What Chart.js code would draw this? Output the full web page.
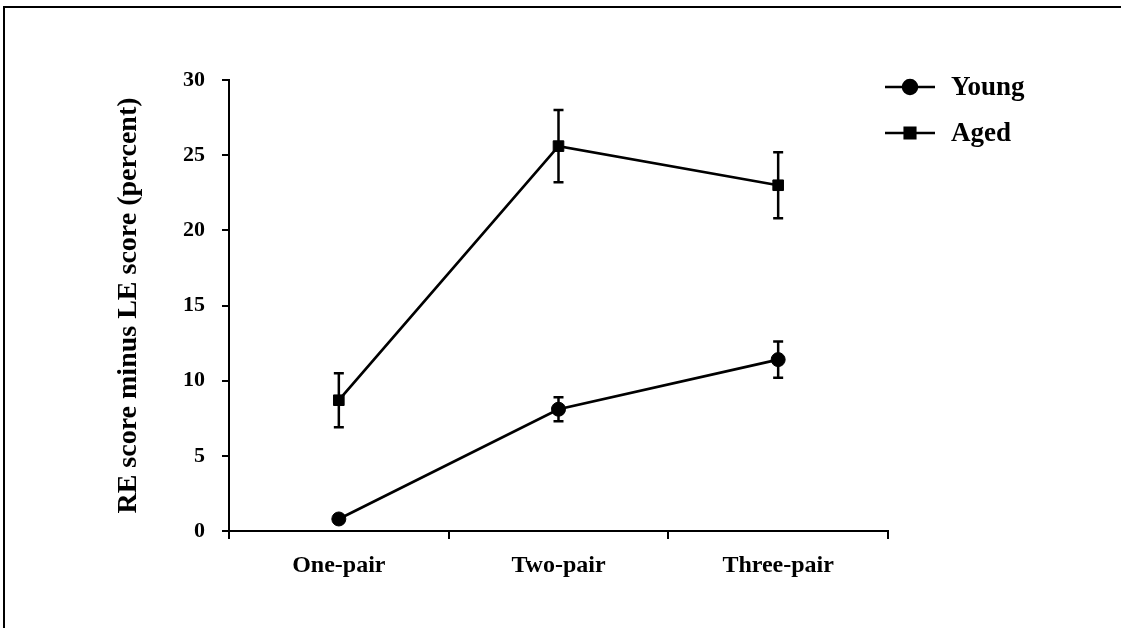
<!DOCTYPE html>
<html>
<head>
<meta charset="utf-8">
<script src="https://cdn.jsdelivr.net/npm/chart.js@4.4.1/dist/chart.umd.min.js"></script>
<style>
  html, body { margin: 0; padding: 0; background: #fff; }
  #wrap { position: relative; width: 1121px; height: 628px; overflow: hidden; }
  #frame { position: absolute; left: 3px; top: 6px; width: 1200px; height: 700px;
           border-top: 2px solid #000; border-left: 2px solid #000; }
  canvas { position: absolute; left: 0; top: 0; }
</style>
</head>
<body>
<div id="wrap">
  <div id="frame"></div>
  <canvas id="chart" width="1121" height="628"></canvas>
</div>
<script>
// Dane wykresu
const categories = ['One-pair', 'Two-pair', 'Three-pair'];
const youngValues = [0.8, 8.1, 11.4];
const youngErrors = [0, 0.8, 1.2];
const agedValues = [8.7, 25.6, 23.0];
const agedErrors = [1.8, 2.4, 2.2];
const yTicks = [0, 5, 10, 15, 20, 25, 30];

const serif = '"Liberation Serif", "Times New Roman", serif';

// Slupki bledow (SEM)
const errorBars = {
    id: 'errorBars',
    beforeDatasetsDraw(chart) {
        const ctx = chart.ctx;
        const y = chart.scales.y;
        ctx.save();
        ctx.strokeStyle = '#000';
        ctx.lineWidth = 2.5;
        chart.data.datasets.forEach((ds, i) => {
            const meta = chart.getDatasetMeta(i);
            meta.data.forEach((pt, j) => {
                const err = ds.errors[j];
                if (!err) return;
                const top = y.getPixelForValue(ds.data[j] + err);
                const bot = y.getPixelForValue(ds.data[j] - err);
                ctx.beginPath();
                ctx.moveTo(pt.x, top); ctx.lineTo(pt.x, bot);
                ctx.moveTo(pt.x - 5, top); ctx.lineTo(pt.x + 5, top);
                ctx.moveTo(pt.x - 5, bot); ctx.lineTo(pt.x + 5, bot);
                ctx.stroke();
            });
        });
        ctx.restore();
    }
};

// Legenda rysowana recznie
const customLegend = {
    id: 'customLegend',
    afterDraw(chart) {
        const ctx = chart.ctx;
        ctx.save();
        chart.data.datasets.forEach((ds, i) => {
            const yy = 87 + i * 46;
            ctx.strokeStyle = '#000';
            ctx.lineWidth = 2.5;
            ctx.beginPath();
            ctx.moveTo(885, yy); ctx.lineTo(935, yy);
            ctx.stroke();
            Chart.helpers.drawPoint(ctx, {
                pointStyle: ds.pointStyle, radius: ds.pointRadius, borderWidth: 1
            }, 910, yy);
            ctx.fillStyle = '#000';
            ctx.font = 'bold 27px ' + serif;
            ctx.textBaseline = 'middle';
            ctx.fillText(ds.label, 951, yy + 1);
        });
        ctx.restore();
    }
};

new Chart(document.getElementById('chart'), {
    type: 'line',
    data: {
        labels: categories,
        datasets: [
            {
                label: 'Young',
                data: youngValues,
                errors: youngErrors,
                borderColor: '#000',
                backgroundColor: '#000',
                borderWidth: 2.7,
                pointStyle: 'circle',
                pointRadius: 7,
                pointBorderWidth: 1
            },
            {
                label: 'Aged',
                data: agedValues,
                errors: agedErrors,
                borderColor: '#000',
                backgroundColor: '#000',
                borderWidth: 2.7,
                pointStyle: 'rect',
                pointRadius: 7.5,
                pointBorderWidth: 1
            }
        ]
    },
    options: {
        responsive: false,
        animation: false,
        layout: { padding: { left: 110, top: 80, right: 233, bottom: 0 } },
        plugins: {
            legend: { display: false },
            tooltip: { enabled: false }
        },
        scales: {
            x: {
                offset: true,
                grid: { offset: true, drawOnChartArea: false, drawTicks: true, tickLength: 8, color: '#000', lineWidth: 2 },
                border: { display: true, color: '#000', width: 2 },
                ticks: { color: '#000', padding: 12, font: { family: serif, size: 24, weight: 'bold' } },
                afterFit(scale) { scale.height = 97; }
            },
            y: {
                min: 0,
                max: 30,
                afterBuildTicks(scale) { scale.ticks = yTicks.map(v => ({ value: v })); },
                grid: { drawOnChartArea: false, drawTicks: true, tickLength: 7, color: '#000', lineWidth: 2 },
                border: { display: true, color: '#000', width: 2 },
                ticks: { color: '#000', padding: 17, font: { family: serif, size: 22, weight: 'bold' } },
                title: {
                    display: true,
                    text: 'RE score minus LE score (percent)',
                    color: '#000',
                    padding: { top: 2, bottom: 0 },
                    font: { family: serif, size: 28, weight: 'bold' }
                },
                afterFit(scale) { scale.width = 119; }
            }
        }
    },
    plugins: [errorBars, customLegend]
});
</script>
</body>
</html>
